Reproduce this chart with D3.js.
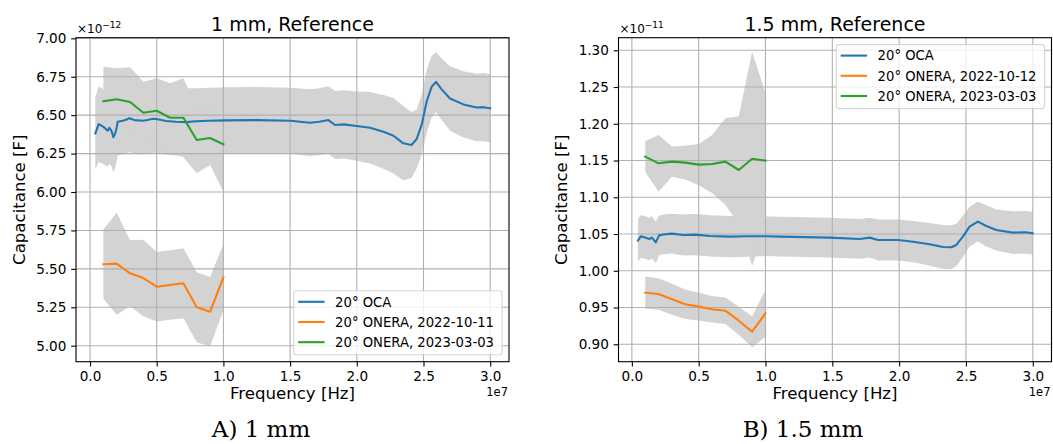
<!DOCTYPE html>
<html>
<head>
<meta charset="utf-8">
<script src="https://cdn.jsdelivr.net/npm/d3@7"></script>
<style>
  body { margin: 0; background: #fff; }
  text { font-family: "DejaVu Sans", sans-serif; fill: #000; }
</style>
</head>
<body>
<svg id="fig" width="1053" height="444"></svg>
<script>
// ---- Data ---------------------------------------------------------------
// Frequencies are in units of 1e7 Hz.
// 1 mm capacitances are in units of 1e-12 F, 1.5 mm ones in units of 1e-11 F.

// 20° OCA, 1 mm (mean and standard deviation)
const ocaFreq1 = [0.040, 0.065, 0.090, 0.115, 0.133, 0.145, 0.160, 0.175, 0.190, 0.200,
  0.207, 0.245, 0.270, 0.295, 0.332, 0.395, 0.430, 0.470, 0.507, 0.570,
  0.645, 0.720, 0.795, 0.895, 1.020, 1.245, 1.500, 1.650, 1.720, 1.787,
  1.837, 1.900, 2.000, 2.099, 2.200, 2.275, 2.349, 2.410, 2.449, 2.487,
  2.524, 2.561, 2.594, 2.636, 2.699, 2.799, 2.898, 2.950, 3.000];
const ocaMean1 = [6.382, 6.442, 6.430, 6.414, 6.399, 6.418, 6.400, 6.356, 6.385, 6.420,
  6.457, 6.464, 6.470, 6.480, 6.468, 6.464, 6.468, 6.477, 6.473, 6.462,
  6.457, 6.455, 6.460, 6.464, 6.466, 6.468, 6.464, 6.451, 6.457, 6.468,
  6.436, 6.440, 6.429, 6.418, 6.392, 6.366, 6.317, 6.306, 6.345, 6.440,
  6.590, 6.685, 6.716, 6.668, 6.608, 6.570, 6.550, 6.552, 6.545];
const ocaStd1 = [0.235, 0.245, 0.245, 0.240, 0.235, 0.235, 0.230, 0.225, 0.225, 0.220,
  0.220, 0.220, 0.220, 0.220, 0.220, 0.220, 0.220, 0.220, 0.220, 0.220,
  0.220, 0.220, 0.215, 0.215, 0.215, 0.215, 0.215, 0.217, 0.218, 0.220,
  0.222, 0.222, 0.225, 0.232, 0.240, 0.245, 0.242, 0.215, 0.190, 0.195,
  0.205, 0.200, 0.195, 0.200, 0.210, 0.215, 0.220, 0.222, 0.222];

// ONERA measurements share one frequency grid
const oneraFreq = [0.1, 0.2, 0.3, 0.4, 0.5, 0.6, 0.7, 0.8, 0.9, 1.0];

const onera2022Mean1 = [5.530, 5.534, 5.471, 5.440, 5.384, 5.395, 5.406, 5.250, 5.221, 5.445];
const onera2022Std1  = [0.225, 0.333, 0.215, 0.249, 0.226, 0.226, 0.228, 0.228, 0.226, 0.215];
const onera2023Mean1 = [6.590, 6.603, 6.586, 6.516, 6.529, 6.483, 6.483, 6.338, 6.351, 6.310];
const onera2023Std1  = [0.225, 0.202, 0.225, 0.202, 0.211, 0.224, 0.257, 0.216, 0.175, 0.308];

// 20° OCA, 1.5 mm
const ocaFreq15 = [0.045, 0.067, 0.100, 0.130, 0.150, 0.179, 0.204, 0.236, 0.299, 0.386,
  0.473, 0.585, 0.735, 0.860, 1.010, 1.108, 1.481, 1.705, 1.780, 1.842,
  1.990, 2.104, 2.228, 2.328, 2.390, 2.428, 2.477, 2.527, 2.589, 2.652,
  2.727, 2.850, 2.950, 3.000];
const ocaMean15 = [1.0412, 1.0468, 1.0452, 1.0432, 1.0452, 1.0386, 1.0482, 1.0494, 1.0505, 1.0487,
  1.0492, 1.0474, 1.0465, 1.0470, 1.0470, 1.0465, 1.0451, 1.0433, 1.0451, 1.0419,
  1.0419, 1.0396, 1.0360, 1.0324, 1.0320, 1.0351, 1.0465, 1.0600, 1.0668, 1.0610,
  1.0555, 1.0519, 1.0523, 1.0510];
const ocaStd15 = [0.029, 0.029, 0.029, 0.029, 0.029, 0.028, 0.027, 0.027, 0.027, 0.028,
  0.028, 0.028, 0.028, 0.028, 0.027, 0.027, 0.027, 0.027, 0.027, 0.028,
  0.028, 0.028, 0.029, 0.030, 0.030, 0.029, 0.028, 0.027, 0.027, 0.028,
  0.028, 0.029, 0.029, 0.029];

const onera2022Mean15 = [0.9702, 0.9684, 0.9612, 0.9544, 0.9512, 0.9476, 0.9457, 0.9321, 0.9171, 0.9422];
const onera2022Std15  = [0.022, 0.0215, 0.021, 0.020, 0.019, 0.018, 0.018, 0.019, 0.021, 0.032];
const onera2023Mean15 = [1.1553, 1.1462, 1.1485, 1.1471, 1.1444, 1.1453, 1.1485, 1.1371, 1.1525, 1.1498];
const onera2023Std15  = [0.021, 0.0386, 0.0205, 0.023, 0.028, 0.0395, 0.059, 0.073, 0.1456, 0.0917];

// Tick labels
const freqTicks = [0.0, 0.5, 1.0, 1.5, 2.0, 2.5, 3.0];
const capTicks1 = [5.00, 5.25, 5.50, 5.75, 6.00, 6.25, 6.50, 6.75, 7.00];
const capTicks15 = [0.90, 0.95, 1.00, 1.05, 1.10, 1.15, 1.20, 1.25, 1.30];

const labels1 = ["20° OCA", "20° ONERA, 2022-10-11", "20° ONERA, 2023-03-03"];
const labels15 = ["20° OCA", "20° ONERA, 2022-10-12", "20° ONERA, 2023-03-03"];
const seriesColors = ["#1f77b4", "#ff7f0e", "#2ca02c"];

// ---- Drawing ------------------------------------------------------------
const svg = d3.select("#fig");
const zip = (f, m, s) => f.map((v, i) => ({ f: v, m: m[i], s: s[i] }));

function drawPanel(cfg) {
  const g = svg.append("g");
  const x = d3.scaleLinear().domain(cfg.xDomain).range([cfg.left, cfg.right]);
  const y = d3.scaleLinear().domain(cfg.yDomain).range([cfg.bottom, cfg.top]);

  const clipId = "clip" + cfg.id;
  svg.append("clipPath").attr("id", clipId).append("rect")
    .attr("x", cfg.left).attr("y", cfg.top)
    .attr("width", cfg.right - cfg.left).attr("height", cfg.bottom - cfg.top);

  const plot = g.append("g").attr("clip-path", `url(#${clipId})`);

  // standard-deviation bands
  const band = d3.area().x(d => x(d.f)).y0(d => y(d.m - d.s)).y1(d => y(d.m + d.s));
  cfg.series.forEach(s => {
    plot.append("path").datum(s.data).attr("d", band).attr("fill", "#d3d3d3");
  });

  // grid
  const grid = plot.append("g").attr("stroke", "#b0b0b0").attr("stroke-width", 1.1);
  cfg.xTicks.forEach(t => grid.append("line")
    .attr("x1", x(t)).attr("x2", x(t)).attr("y1", cfg.top).attr("y2", cfg.bottom));
  cfg.yTicks.forEach(t => grid.append("line")
    .attr("y1", y(t)).attr("y2", y(t)).attr("x1", cfg.left).attr("x2", cfg.right));

  // mean curves
  const line = d3.line().x(d => x(d.f)).y(d => y(d.m));
  cfg.series.forEach((s, i) => {
    plot.append("path").datum(s.data).attr("d", line)
      .attr("fill", "none").attr("stroke", seriesColors[i])
      .attr("stroke-width", 2.1).attr("stroke-linejoin", "round").attr("stroke-linecap", "square");
  });

  // axes
  const xAxis = g.append("g").attr("transform", `translate(0,${cfg.bottom})`)
    .call(d3.axisBottom(x).tickValues(cfg.xTicks).tickFormat(d3.format(".1f"))
      .tickSize(4.8).tickPadding(4.5).tickSizeOuter(0));
  const yAxis = g.append("g").attr("transform", `translate(${cfg.left},0)`)
    .call(d3.axisLeft(y).tickValues(cfg.yTicks).tickFormat(d3.format(".2f"))
      .tickSize(4.8).tickPadding(4.8).tickSizeOuter(0));
  [xAxis, yAxis].forEach(a => {
    a.select(".domain").remove();
    a.selectAll(".tick line").attr("stroke", "#000").attr("stroke-width", 1.1);
    a.selectAll(".tick text").attr("font-size", 13.6).attr("fill", "#000")
      .attr("font-family", "DejaVu Sans, sans-serif");
  });

  // spines
  g.append("rect").attr("x", cfg.left).attr("y", cfg.top)
    .attr("width", cfg.right - cfg.left).attr("height", cfg.bottom - cfg.top)
    .attr("fill", "none").attr("stroke", "#000").attr("stroke-width", 1.1);

  // title
  g.append("text").attr("x", (cfg.left + cfg.right) / 2).attr("y", 30.5)
    .attr("text-anchor", "middle").attr("font-size", 19).text(cfg.title);

  // axis labels
  g.append("text").attr("x", (cfg.left + cfg.right) / 2).attr("y", 399)
    .attr("text-anchor", "middle").attr("font-size", 16.6).text("Frequency [Hz]");
  g.append("text")
    .attr("transform", `translate(${cfg.ylabelX},${(cfg.top + cfg.bottom) / 2}) rotate(-90)`)
    .attr("text-anchor", "middle").attr("font-size", 16.6).text("Capacitance [F]");

  // offset texts
  const off = g.append("text").attr("x", cfg.left + 1).attr("y", 32.7).attr("font-size", 12);
  off.append("tspan").text("×10");
  off.append("tspan").attr("dy", -5).attr("font-size", 9).text(cfg.yExponent);
  g.append("text").attr("x", cfg.right - 1).attr("y", 396)
    .attr("text-anchor", "end").attr("font-size", 11.5).text("1e7");

  // legend
  const fs = 13.2;
  const leg = g.append("g");
  const texts = cfg.labels.map((lab, i) => leg.append("text")
    .attr("font-size", fs).text(lab));
  const tw = d3.max(texts, t => t.node().getComputedTextLength());
  const boxW = 0.8 * fs + 2.8 * fs + tw + 2;
  const boxH = 64;
  const pad = 6.9;
  const bx = cfg.right - pad - boxW;
  const by = cfg.legendLoc === "lower right" ? cfg.bottom - pad - boxH : cfg.top + pad;
  leg.insert("rect", ":first-child").attr("x", bx).attr("y", by)
    .attr("width", boxW).attr("height", boxH).attr("rx", 2.8)
    .attr("fill", "#fff").attr("fill-opacity", 0.8)
    .attr("stroke", "#cccccc").attr("stroke-opacity", 0.8).attr("stroke-width", 1.1);
  texts.forEach((t, i) => {
    const cy = by + 11 + i * 20.2;
    leg.append("line").attr("x1", bx + 4.4).attr("x2", bx + 4.4 + 2 * fs)
      .attr("y1", cy).attr("y2", cy)
      .attr("stroke", seriesColors[i]).attr("stroke-width", 2.1);
    t.attr("x", bx + 4.4 + 2.8 * fs).attr("y", cy + 4.8);
  });

  // caption
  svg.append("text").attr("x", cfg.captionX).attr("y", 437)
    .attr("text-anchor", "middle").attr("font-size", 23)
    .attr("font-family", "DejaVu Serif, serif").style("font-family", "DejaVu Serif, serif")
    .text(cfg.caption);
}

drawPanel({
  id: "A", left: 76, right: 509, top: 37.7, bottom: 361.7,
  xDomain: [-0.105, 3.141], yDomain: [4.896, 7.004],
  xTicks: freqTicks, yTicks: capTicks1, yExponent: "−12",
  title: "1 mm, Reference", ylabelX: 25, labels: labels1, legendLoc: "lower right",
  caption: "A) 1 mm", captionX: 261,
  series: [
    { data: zip(ocaFreq1, ocaMean1, ocaStd1) },
    { data: zip(oneraFreq, onera2022Mean1, onera2022Std1) },
    { data: zip(oneraFreq, onera2023Mean1, onera2023Std1) }
  ]
});

drawPanel({
  id: "B", left: 618.5, right: 1051.5, top: 37.7, bottom: 361.7,
  xDomain: [-0.1, 3.14], yDomain: [0.8763, 1.3171],
  xTicks: freqTicks, yTicks: capTicks15, yExponent: "−11",
  title: "1.5 mm, Reference", ylabelX: 567, labels: labels15, legendLoc: "upper right",
  caption: "B) 1.5 mm", captionX: 803,
  series: [
    { data: zip(ocaFreq15, ocaMean15, ocaStd15) },
    { data: zip(oneraFreq, onera2022Mean15, onera2022Std15) },
    { data: zip(oneraFreq, onera2023Mean15, onera2023Std15) }
  ]
});
</script>
</body>
</html>
